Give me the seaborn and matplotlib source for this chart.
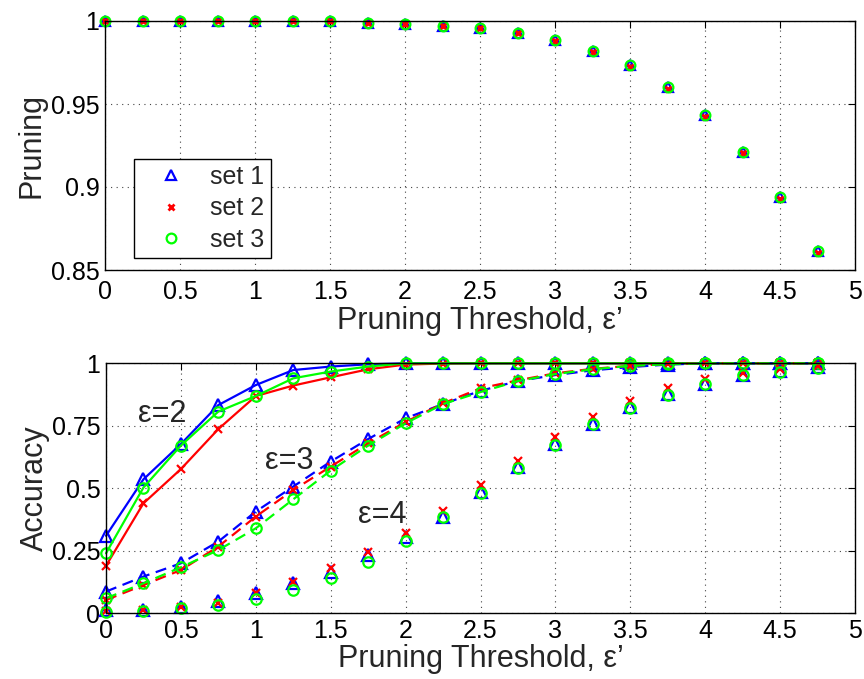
import numpy as np
import pandas as pd
import matplotlib
matplotlib.use("Agg")
import matplotlib.pyplot as plt
import seaborn as sns
from matplotlib.ticker import FixedLocator, FixedFormatter

# ---------------- data ----------------
thresholds = [0, 0.25, 0.5, 0.75, 1.0, 1.25, 1.5, 1.75, 2.0, 2.25,
              2.5, 2.75, 3.0, 3.25, 3.5, 3.75, 4.0, 4.25, 4.5, 4.75]

set_names = ["set 1", "set 2", "set 3"]

# Pruning (top panel)
pruning_set1 = [1, 1, 1, 1, 1, 1, 1, 0.999, 0.998, 0.997,
                0.9956, 0.993, 0.9886, 0.9822, 0.9732, 0.9602, 0.9432, 0.9212, 0.894, 0.8612]
pruning_set2 = [1, 1, 1, 1, 1, 1, 1, 0.999, 0.998, 0.997,
                0.9955, 0.9925, 0.988, 0.9815, 0.9722, 0.959, 0.942, 0.9202, 0.893, 0.8602]
pruning_set3 = [1, 1, 1, 1, 1, 1, 1, 0.999, 0.998, 0.997,
                0.9956, 0.993, 0.9886, 0.9822, 0.9732, 0.9602, 0.9432, 0.9212, 0.894, 0.8612]

# Accuracy (bottom panel), eps = 2
acc_eps2_set1 = [0.31, 0.536, 0.677, 0.833, 0.913, 0.973, 0.987, 0.996, 1, 1,
                 1, 1, 1, 1, 1, 1, 1, 1, 1, 1]
acc_eps2_set2 = [0.19, 0.44, 0.577, 0.737, 0.869, 0.911, 0.944, 0.976, 0.995, 0.999,
                 1, 1, 1, 1, 1, 1, 1, 1, 1, 1]
acc_eps2_set3 = [0.24, 0.503, 0.671, 0.807, 0.869, 0.94, 0.967, 0.987, 1, 1,
                 1, 1, 1, 1, 1, 1, 1, 1, 1, 1]

# eps = 3
acc_eps3_set1 = [0.087, 0.147, 0.2, 0.287, 0.407, 0.507, 0.607, 0.697, 0.78, 0.837,
                 0.89, 0.929, 0.953, 0.972, 0.985, 0.995, 1, 1, 1, 1]
acc_eps3_set2 = [0.053, 0.113, 0.173, 0.267, 0.387, 0.493, 0.587, 0.68, 0.765, 0.84,
                 0.9, 0.932, 0.96, 0.978, 0.99, 0.997, 1, 1, 1, 1]
acc_eps3_set3 = [0.06, 0.12, 0.184, 0.253, 0.34, 0.456, 0.571, 0.671, 0.76, 0.837,
                 0.885, 0.929, 0.957, 0.976, 0.99, 0.996, 1, 1, 1, 1]

# eps = 4
acc_eps4_set1 = [0.013, 0.013, 0.027, 0.049, 0.08, 0.12, 0.167, 0.233, 0.307, 0.387,
                 0.487, 0.584, 0.677, 0.757, 0.824, 0.877, 0.917, 0.953, 0.971, 0.987]
acc_eps4_set2 = [0.009, 0.013, 0.024, 0.04, 0.083, 0.127, 0.18, 0.247, 0.323, 0.41,
                 0.513, 0.611, 0.704, 0.787, 0.851, 0.9, 0.936, 0.963, 0.976, 0.989]
acc_eps4_set3 = [0.004, 0.009, 0.02, 0.033, 0.056, 0.093, 0.143, 0.204, 0.29, 0.384,
                 0.483, 0.583, 0.673, 0.757, 0.823, 0.873, 0.917, 0.953, 0.967, 0.98]

x_ticks = [0, 0.5, 1, 1.5, 2, 2.5, 3, 3.5, 4, 4.5, 5]
x_tick_labels = ["0", "0.5", "1", "1.5", "2", "2.5", "3", "3.5", "4", "4.5", "5"]
top_y_ticks = [0.85, 0.9, 0.95, 1.0]
top_y_tick_labels = ["0.85", "0.9", "0.95", "1"]
bot_y_ticks = [0, 0.25, 0.5, 0.75, 1.0]
bot_y_tick_labels = ["0", "0.25", "0.5", "0.75", "1"]

x_label = "Pruning Threshold, \u03b5\u2019"
eps_labels = ["\u03b5=2", "\u03b5=3", "\u03b5=4"]

# ---------------- style ----------------
sns.set_style("white")
plt.rcParams['font.family'] = ['Liberation Sans', 'DejaVu Sans']

colors = ["#0000ff", "#ff0000", "#00ff00"]
markers = ["^", "x", "o"]
msizes = [8, 6, 7.5]

FS = 18       # tick labels
LFS = 22      # axis labels / annotations

fig = plt.figure(figsize=(8.64, 6.79), dpi=100)
ax1 = fig.add_axes([105 / 864, 1 - 270 / 679, 750 / 864, 249 / 679])
ax2 = fig.add_axes([106 / 864, 1 - 613.3 / 679, 749 / 864, 250 / 679])


def style_axes(ax, yt, ytl, ylim, xpad):
    ax.set_xlim(0, 5)
    ax.set_ylim(*ylim)
    ax.xaxis.set_major_locator(FixedLocator(x_ticks))
    ax.xaxis.set_major_formatter(FixedFormatter(x_tick_labels))
    ax.yaxis.set_major_locator(FixedLocator(yt))
    ax.yaxis.set_major_formatter(FixedFormatter(ytl))
    ax.grid(True, linestyle=(0, (1, 4)), color="#444444", linewidth=0.8)
    ax.set_axisbelow(True)
    ax.tick_params(direction="in", top=True, right=True, length=5, width=0.8,
                   labelsize=FS, colors="black")
    ax.tick_params(axis="x", pad=xpad)
    ax.tick_params(axis="y", pad=4)
    for s in ax.spines.values():
        s.set_color("black")
        s.set_linewidth(1.0)


# ---------------- top panel ----------------
pruning = [pruning_set1, pruning_set2, pruning_set3]
for i in range(3):
    sns.lineplot(x=thresholds, y=pruning[i], ax=ax1, color=colors[i], marker=markers[i],
                 linestyle="none", markersize=msizes[i] - 0.5 if i != 1 else 5,
                 markerfacecolor="none", markeredgecolor=colors[i],
                 markeredgewidth=1.6 if i != 1 else 2.0,
                 estimator=None, sort=False, label=set_names[i], clip_on=False)

style_axes(ax1, top_y_ticks, top_y_tick_labels, (0.85, 1.0), xpad=7)
ax1.set_xlabel(x_label, fontsize=LFS, labelpad=2)
ax1.set_ylabel("Pruning", fontsize=LFS, labelpad=3)
if ax1.get_legend() is not None:
    ax1.get_legend().remove()
handles = ax1.get_lines()[:3]
leg = ax1.legend(handles=handles, labels=set_names, loc="lower left",
                 bbox_to_anchor=(0.039, 0.048), borderaxespad=0, frameon=True,
                 fancybox=False, edgecolor="black", framealpha=1, fontsize=18,
                 handlelength=2.45, handletextpad=0.35, labelspacing=0.3, borderpad=0.25)
leg.get_frame().set_linewidth(1.0)

# ---------------- bottom panel ----------------
eps2 = [acc_eps2_set1, acc_eps2_set2, acc_eps2_set3]
eps3 = [acc_eps3_set1, acc_eps3_set2, acc_eps3_set3]
eps4 = [acc_eps4_set1, acc_eps4_set2, acc_eps4_set3]

for i in range(3):
    sns.lineplot(x=thresholds, y=eps2[i], ax=ax2, color=colors[i], marker=markers[i],
                 linestyle="-", linewidth=1.6, markersize=msizes[i],
                 markerfacecolor="none", markeredgecolor=colors[i],
                 markeredgewidth=1.6, estimator=None, sort=False, clip_on=False)
for i in range(3):
    sns.lineplot(x=thresholds, y=eps3[i], ax=ax2, color=colors[i], marker=markers[i],
                 linestyle=(0, (5, 3)), linewidth=1.6, markersize=msizes[i],
                 markerfacecolor="none", markeredgecolor=colors[i],
                 markeredgewidth=1.6, estimator=None, sort=False, clip_on=False)
for i in range(3):
    sns.lineplot(x=thresholds, y=eps4[i], ax=ax2, color=colors[i], marker=markers[i],
                 linestyle="none", markersize=msizes[i],
                 markerfacecolor="none", markeredgecolor=colors[i],
                 markeredgewidth=1.6, estimator=None, sort=False, clip_on=False)

style_axes(ax2, bot_y_ticks, bot_y_tick_labels, (0, 1.0), xpad=4)
ax2.set_xlabel(x_label, fontsize=LFS, labelpad=1)
ax2.set_ylabel("Accuracy", fontsize=LFS, labelpad=1)

ax2.text(0.213, 0.765, eps_labels[0], fontsize=LFS, ha="left", va="baseline")
ax2.text(1.06, 0.577, eps_labels[1], fontsize=LFS, ha="left", va="baseline")
ax2.text(1.68, 0.361, eps_labels[2], fontsize=LFS, ha="left", va="baseline")

fig.savefig("out.png", dpi=100)
